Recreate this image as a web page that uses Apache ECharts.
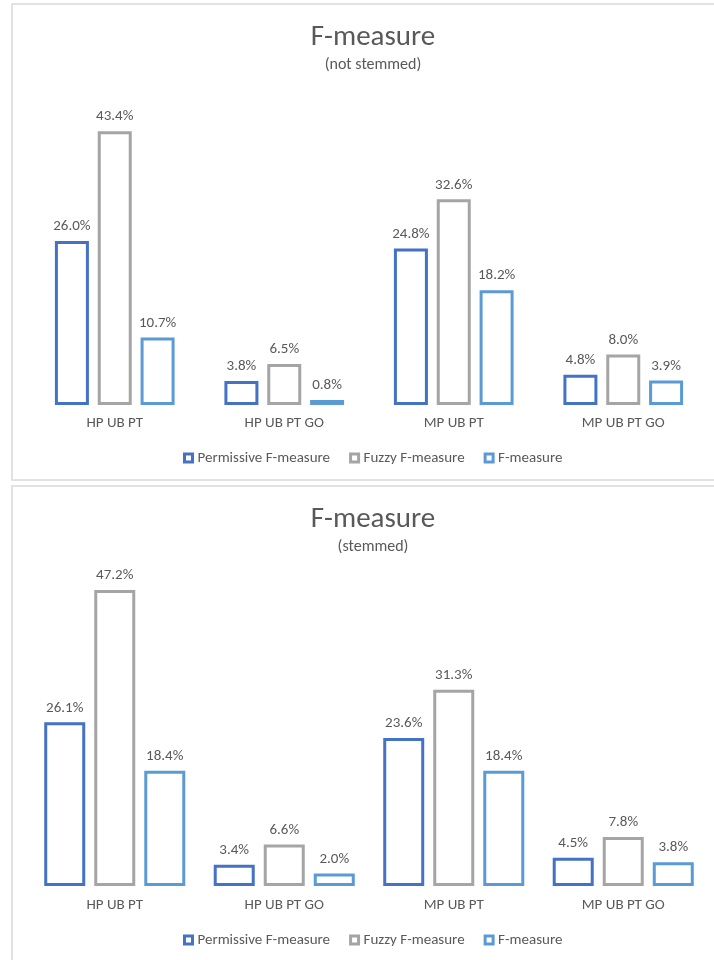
<!DOCTYPE html>
<html>
<head>
<meta charset="utf-8">
<script src="https://cdn.jsdelivr.net/npm/echarts@6/dist/echarts.min.js"></script>
<style>
  html, body { margin: 0; padding: 0; background: #fff; }
  #chart { width: 714px; height: 960px; }
</style>
</head>
<body>
<div id="chart"></div>
<script>
// Pipelines compared in both panels
const categories = ['HP UB PT', 'HP UB PT GO', 'MP UB PT', 'MP UB PT GO'];
const seriesNames = ['Permissive F-measure', 'Fuzzy F-measure', 'F-measure'];

// F-measure scores in percent, without stemming
const notStemmedPermissive = [26.0, 3.8, 24.8, 4.8];
const notStemmedFuzzy = [43.4, 6.5, 32.6, 8.0];
const notStemmedStrict = [10.7, 0.8, 18.2, 3.9];

// F-measure scores in percent, with stemming
const stemmedPermissive = [26.1, 3.4, 23.6, 4.5];
const stemmedFuzzy = [47.2, 6.6, 31.3, 7.8];
const stemmedStrict = [18.4, 2.0, 18.4, 3.8];

const colors = ['#4472C4', '#A5A5A5', '#5B9BD5'];
const textColor = '#595959';
const font = "'Carlito', 'Liberation Sans Narrow', 'Liberation Sans', sans-serif";

// Outlined (hollow) bars with a percentage label on top
function barSeries(name, data, idx, gridIdx, barWidth, barGap) {
  return {
    type: 'bar',
    name: name,
    data: data,
    xAxisIndex: gridIdx,
    yAxisIndex: gridIdx,
    barWidth: barWidth,
    barGap: barGap,
    itemStyle: { color: '#ffffff', borderColor: colors[idx], borderWidth: 3 },
    label: {
      show: true,
      position: 'top',
      distance: 7,
      color: textColor,
      fontFamily: font,
      fontSize: 15,
      formatter: p => p.value.toFixed(1) + '%'
    },
    emphasis: { disabled: true },
    silent: true
  };
}

function xAxis(gridIdx, margin) {
  return {
    type: 'category',
    gridIndex: gridIdx,
    data: categories,
    axisLine: { show: false },
    axisTick: { show: false },
    axisLabel: { color: textColor, fontFamily: font, fontSize: 15, margin: margin }
  };
}

function yAxis(gridIdx) {
  return {
    type: 'value',
    gridIndex: gridIdx,
    min: 0,
    max: 50,
    show: false,
    splitLine: { show: false }
  };
}

function titleBlock(text, sub, top) {
  return {
    text: text,
    subtext: sub,
    left: 368,
    top: top,
    textAlign: 'center',
    itemGap: 4.5,
    textStyle: { color: textColor, fontFamily: font, fontSize: 29, fontWeight: 'normal' },
    subtextStyle: { color: textColor, fontFamily: font, fontSize: 16 }
  };
}

function legendBlock(top) {
  return {
    data: seriesNames,
    left: 178,
    top: top,
    itemWidth: 8,
    itemHeight: 8,
    itemGap: 19,
    icon: 'rect',
    itemStyle: { color: '#ffffff', borderWidth: 3 },
    textStyle: { color: textColor, fontFamily: font, fontSize: 15 },
    selectedMode: false
  };
}

const chart = echarts.init(document.getElementById('chart'));
chart.setOption({
  animation: false,
  title: [
    titleBlock('F-measure', '(not stemmed)', 18.5),
    titleBlock('F-measure', '(stemmed)', 500.5)
  ],
  legend: [legendBlock(445.5), legendBlock(927.5)],
  grid: [
    { left: 30, right: 6, top: 89.5, bottom: 555 },
    { left: 30, right: 6, top: 572.5, bottom: 74 }
  ],
  xAxis: [xAxis(0, 11), xAxis(1, 12)],
  yAxis: [yAxis(0), yAxis(1)],
  graphic: [
    { type: 'rect', shape: { x: 12, y: 4, width: 720, height: 476 }, style: { fill: 'none', stroke: '#d9d9d9', lineWidth: 1.5 }, silent: true },
    { type: 'rect', shape: { x: 12, y: 486, width: 720, height: 490 }, style: { fill: 'none', stroke: '#d9d9d9', lineWidth: 1.5 }, silent: true }
  ],
  series: [
    barSeries(seriesNames[0], notStemmedPermissive, 0, 0, 34, '26%'),
    barSeries(seriesNames[1], notStemmedFuzzy, 1, 0, 34, '26%'),
    barSeries(seriesNames[2], notStemmedStrict, 2, 0, 34, '26%'),
    barSeries(seriesNames[0], stemmedPermissive, 0, 1, 41, '22%'),
    barSeries(seriesNames[1], stemmedFuzzy, 1, 1, 41, '22%'),
    barSeries(seriesNames[2], stemmedStrict, 2, 1, 41, '22%')
  ]
});
</script>
</body>
</html>
